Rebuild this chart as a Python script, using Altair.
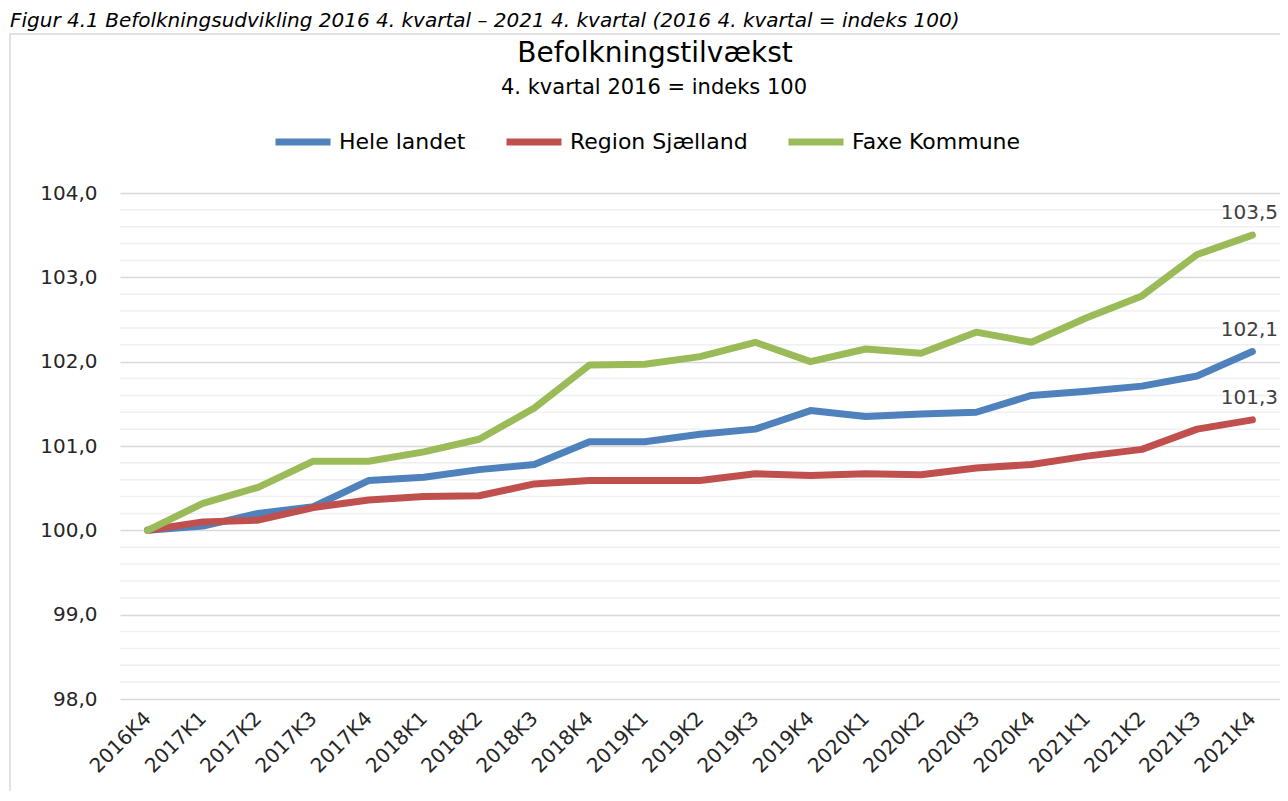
import altair as alt
import pandas as pd

FONT = "DejaVu Sans"

caption = "Figur 4.1 Befolkningsudvikling 2016 4. kvartal – 2021 4. kvartal (2016 4. kvartal = indeks 100)"
title = "Befolkningstilvækst"
subtitle = "4. kvartal 2016 = indeks 100"

quarters = ["2016K4", "2017K1", "2017K2", "2017K3", "2017K4", "2018K1", "2018K2",
            "2018K3", "2018K4", "2019K1", "2019K2", "2019K3", "2019K4", "2020K1",
            "2020K2", "2020K3", "2020K4", "2021K1", "2021K2", "2021K3", "2021K4"]

series_names = ["Hele landet", "Region Sjælland", "Faxe Kommune"]
series_colors = ["#4F81BD", "#C0504D", "#9BBB59"]

hele_landet = [100.0, 100.05, 100.2, 100.28, 100.59, 100.63, 100.72, 100.78, 101.05, 101.05,
               101.14, 101.2, 101.42, 101.35, 101.38, 101.4, 101.6, 101.65, 101.71, 101.83, 102.12]
region_sjaelland = [100.0, 100.1, 100.12, 100.27, 100.36, 100.4, 100.41, 100.55, 100.59, 100.59,
                    100.59, 100.67, 100.65, 100.67, 100.66, 100.74, 100.78, 100.88, 100.96, 101.2, 101.31]
faxe_kommune = [100.0, 100.32, 100.51, 100.82, 100.82, 100.93, 101.08, 101.45, 101.96, 101.97,
                102.06, 102.23, 102.0, 102.15, 102.1, 102.35, 102.23, 102.52, 102.78, 103.27, 103.5]

y_major = [98, 99, 100, 101, 102, 103, 104]
y_minor = [98.2, 98.4, 98.6, 98.8, 99.2, 99.4, 99.6, 99.8, 100.2, 100.4, 100.6, 100.8,
           101.2, 101.4, 101.6, 101.8, 102.2, 102.4, 102.6, 102.8, 103.2, 103.4, 103.6, 103.8]

rows = []
for name, vals in zip(series_names, [hele_landet, region_sjaelland, faxe_kommune]):
    for q, v in zip(quarters, vals):
        rows.append({"kvartal": q, "serie": name, "indeks": v})
df = pd.DataFrame(rows)

W, H = 1160, 506

yscale = alt.Scale(domain=[98, 104], nice=False, zero=False)
y_axis = alt.Axis(values=y_major, labelExpr="replace(format(datum.value, '.1f'), '.', ',')",
                  labelFontSize=20, labelFont=FONT, labelColor="#262626",
                  labelPadding=23, domain=False, ticks=False, grid=True,
                  gridColor="#d9d9d9", gridWidth=1.5, title=None)
xenc = alt.X("kvartal:N", sort=quarters, title=None,
             axis=alt.Axis(labelAngle=-45, labelAlign="right", labelBaseline="middle",
                           labelPadding=16, labelFontSize=20, labelFont=FONT,
                           labelColor="#262626", domain=False, ticks=False, grid=False,
                           labelOverlap=False))
yenc = alt.Y("indeks:Q", scale=yscale, title=None, axis=y_axis)

frame = alt.Chart(pd.DataFrame({"f": [1]})).mark_rect(
    fill="transparent", stroke="#d9d9d9", strokeWidth=1.5
).encode(x=alt.value(-110), x2=alt.value(1180), y=alt.value(-159), y2=alt.value(620))

texts = pd.DataFrame({
    "t": [caption, title, subtitle],
    "kind": ["caption", "title", "subtitle"],
})

cap = alt.Chart(texts).transform_filter(alt.datum.kind == "caption").mark_text(
    align="left", baseline="alphabetic", fontStyle="italic", fontSize=20, font=FONT, color="#000000"
).encode(x=alt.value(-110), y=alt.value(-166), text="t:N")

ttl = alt.Chart(texts).transform_filter(alt.datum.kind == "title").mark_text(
    align="center", baseline="alphabetic", fontSize=28, font=FONT, color="#000000"
).encode(x=alt.value(535), y=alt.value(-131), text="t:N")

sub = alt.Chart(texts).transform_filter(alt.datum.kind == "subtitle").mark_text(
    align="center", baseline="alphabetic", fontSize=21, font=FONT, color="#000000"
).encode(x=alt.value(534), y=alt.value(-99), text="t:N")

lines = alt.Chart(df).mark_line(strokeWidth=7, strokeCap="round", strokeJoin="round").encode(
    x=xenc,
    y=yenc,
    color=alt.Color("serie:N", sort=series_names,
                    scale=alt.Scale(domain=series_names, range=series_colors),
                    legend=alt.Legend(orient="none", legendX=152, legendY=-82,
                                      direction="horizontal", title=None,
                                      symbolType="stroke", symbolSize=3025,
                                      symbolStrokeWidth=7, labelFontSize=22,
                                      labelFont=FONT, labelColor="#000000",
                                      columnPadding=26, labelOffset=5, labelLimit=0)),
    order=alt.Order("serie:N"),
)

minor = alt.Chart(pd.DataFrame({"indeks": y_minor})).mark_rule(
    color="#f0f0f0", strokeWidth=1.5
).encode(y=yenc, x=alt.value(0), x2=alt.value(W))

labels = alt.Chart(df).transform_filter(
    alt.datum.kvartal == quarters[-1]
).transform_calculate(
    lbl="replace(format(datum.indeks, '.1f'), '.', ',')"
).mark_text(
    dy=-16, dx=-3, baseline="alphabetic", fontSize=20, font=FONT, color="#404040"
).encode(x=alt.X("kvartal:N", sort=quarters), y=yenc, text="lbl:N")

chart = alt.layer(frame, cap, ttl, sub, minor, lines, labels).properties(
    width=W, height=H,
    autosize=alt.AutoSizeParams(type="none"),
    padding={"left": 112, "top": 185, "right": 0, "bottom": 92},
).configure_view(stroke=None)

chart.save("out.html", embed_options={"renderer": "svg", "actions": False})
